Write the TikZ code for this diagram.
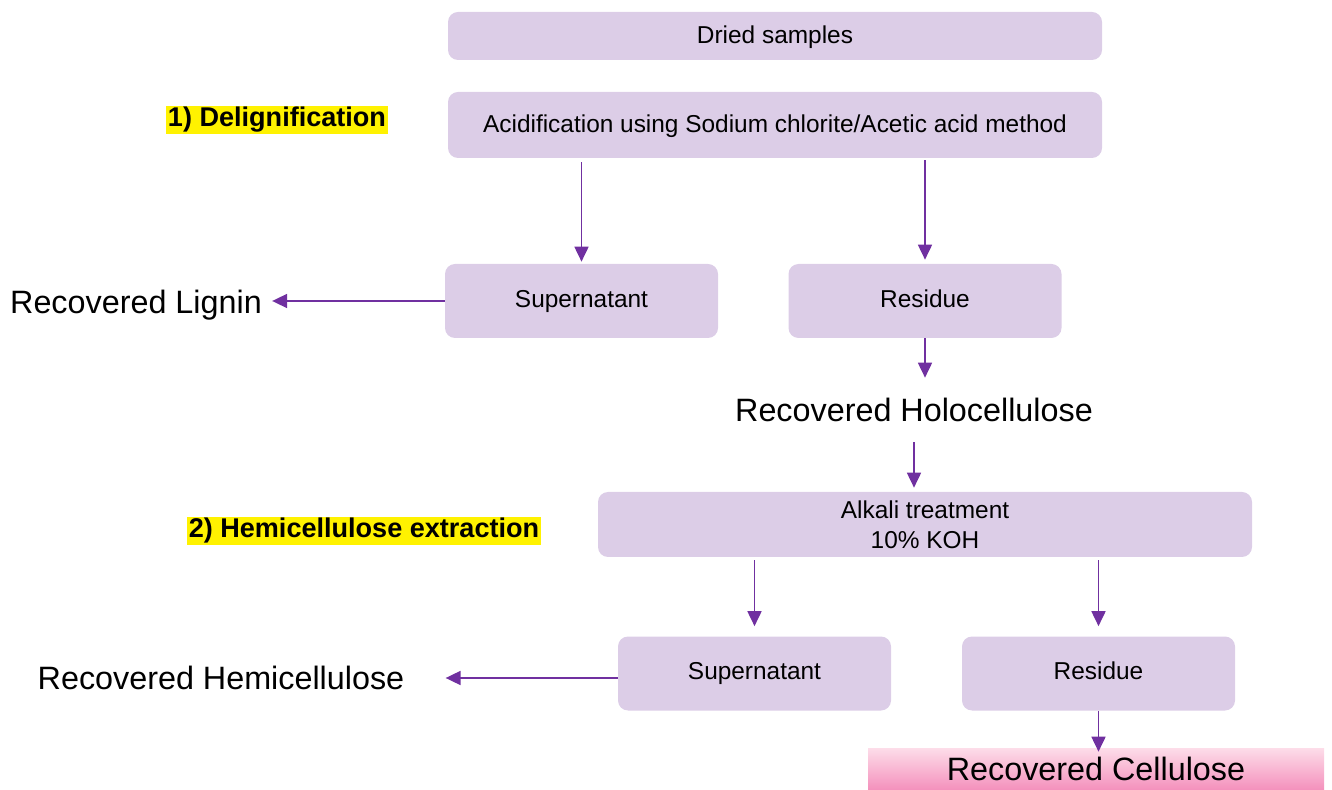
\documentclass[tikz,border=0pt]{standalone}
\usepackage{fontspec}
\setmainfont{Liberation Sans}
\usetikzlibrary{arrows.meta}
\definecolor{lavender}{HTML}{DCCDE7}
\definecolor{flowpurple}{HTML}{7030A0}
\definecolor{palepink}{HTML}{FDDDE9}
\definecolor{deeppink}{HTML}{F490BC}
\tikzstyle{panel} = [rectangle, rounded corners=0.2cm, text centered, fill=lavender, font=\fontsize{13.9}{17}\selectfont]
\tikzstyle{stage} = [panel, minimum width=13.08cm, text height=0.82em, text depth=0pt]
\tikzstyle{split} = [panel, minimum width=5.46cm, minimum height=1.48cm, text height=0.72em, text depth=0pt]
\tikzstyle{result} = [inner sep=0.2cm, font=\fontsize{18.4}{22}\selectfont]
\tikzstyle{tag} = [fill=yellow, inner sep=0.03cm, minimum height=0.56cm, font=\bfseries\fontsize{15.4}{18}\selectfont]
\tikzstyle{final} = [rectangle, minimum width=9.12cm, minimum height=0.84cm, top color=palepink, bottom color=deeppink, font=\fontsize{18.4}{22}\selectfont]
\tikzstyle{arrow} = [line width=0.85pt, flowpurple, -{Triangle[length=8.5pt, width=8pt]}]

\begin{document}
\begin{tikzpicture}[node distance=1cm]
        \useasboundingbox (0,0) rectangle (26.64,-15.8);

        \node (dried) [stage, minimum height=0.96cm] at (15.5,-0.72) {Dried samples};
        \node (acid) [stage, minimum height=1.32cm, below of=dried, yshift=-0.78cm] {Acidification using Sodium chlorite/Acetic acid method};

        \node (sup1) [split, below of=acid, xshift=-3.87cm, yshift=-2.52cm] {Supernatant};
        \node (res1) [split, right of=sup1, xshift=5.87cm] {Residue};
        \node (lignin) [result, left of=sup1, xshift=-7.91cm, yshift=-0.08cm] {Recovered Lignin};
        \node (holo) [result, minimum height=1.28cm, below of=res1, xshift=-0.22cm, yshift=-1.18cm] {Recovered Holocellulose};

        \node (alkali) [panel, minimum width=13.08cm, minimum height=1.3cm, align=center, below of=holo, xshift=0.22cm, yshift=-1.29cm] {Alkali treatment\\10\% KOH};
        \node (sup2) [split, below of=alkali, xshift=-3.41cm, yshift=-1.98cm] {Supernatant};
        \node (res2) [split, right of=sup2, xshift=5.88cm] {Residue};
        \node (hemi) [result, left of=sup2, xshift=-9.67cm, yshift=-0.09cm] {Recovered Hemicellulose};
        \node (cell) [final, below of=res2, xshift=-0.05cm, yshift=-0.91cm] {Recovered Cellulose};

        \node (delig) [tag, left of=acid, xshift=-8.96cm, yshift=0.1cm] {1) Delignification};
        \node (hemiext) [tag, left of=alkali, xshift=-10.22cm, yshift=-0.13cm] {2) Hemicellulose extraction};


        \draw [arrow, shorten <=0.08cm, shorten >=0.04cm] (acid.south -| sup1.north) -- (sup1.north);
        \draw [arrow, shorten <=0.04cm, shorten >=0.08cm] (acid.south -| res1.north) -- (res1.north);
        \draw [arrow] (sup1.west) -- (sup1.west -| lignin.east);
        \draw [arrow] (res1.south) -- (res1.south |- holo.north);

        \draw [arrow, shorten >=0.08cm] (holo.south) -- (holo.south |- alkali.north);
        \draw [arrow, shorten <=0.06cm, shorten >=0.2cm] (alkali.south -| sup2.north) -- (sup2.north);
        \draw [arrow, shorten <=0.06cm, shorten >=0.2cm] (alkali.south -| res2.north) -- (res2.north);
        \draw [arrow, shorten >=0.62cm] (sup2.west |- hemi.east) -- (hemi.east);
        \draw [arrow, shorten >=-0.08cm] (res2.south) -- (res2.south |- cell.north);
\end{tikzpicture}
\end{document}
